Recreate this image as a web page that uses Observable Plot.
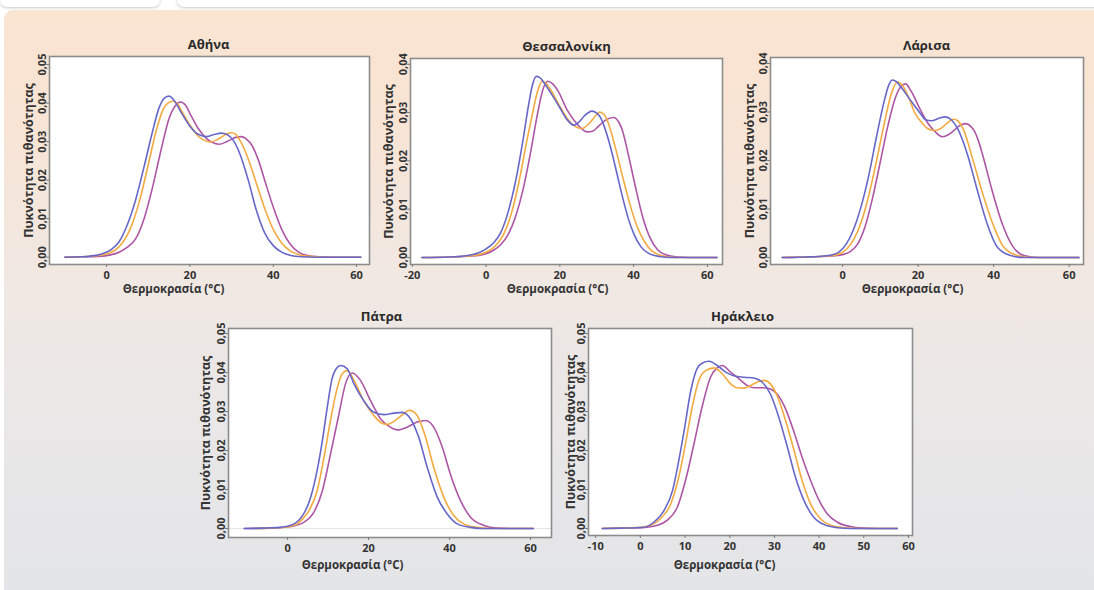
<!DOCTYPE html>
<html>
<head>
<meta charset="utf-8">
<script src="https://cdn.jsdelivr.net/npm/d3@7"></script>
<script src="https://cdn.jsdelivr.net/npm/@observablehq/plot@0.6"></script>
<style>
  html, body { margin: 0; padding: 0; background: #ffffff; }
  #page { position: relative; width: 1094px; height: 590px; overflow: hidden; background: #ffffff; font-family: "Open Sans", "Noto Sans", sans-serif; }
  .tab { position: absolute; top: -8px; height: 15px; background: #ffffff; border-radius: 0 0 7px 7px; box-shadow: 0 1px 3px rgba(0,0,0,0.22); }
  #bg { position: absolute; left: 4px; top: 10px; right: 0; bottom: 0; border-radius: 9px 0 0 0;
        background: linear-gradient(to bottom, #fae4d2 0%, #f8e4d4 18%, #f1e8e2 45%, #e9e7e7 70%, #e4e5e8 100%); }
  .panel { position: absolute; }
</style>
</head>
<body>
<div id="page">
  <div class="tab" style="left:0px; width:160px;"></div>
  <div class="tab" style="left:177px; width:930px;"></div>
  <div id="bg"></div>
</div>
<script>
// ---------- Data: [temperature °C, density] ----------
const athinaBlue = [[-10,0],[-6,0.0001],[-3,0.0004],[-1,0.0009],[1,0.0019],[3,0.0040],[5,0.0085],[7,0.0150],[9,0.0235],[11,0.0325],[12.5,0.0385],[14,0.0414],[15,0.0418],[16,0.0410],[18,0.0374],[20,0.0340],[22,0.0319],[24,0.0313],[26,0.0319],[27.5,0.0322],[29,0.0318],[30.5,0.0302],[32,0.0268],[34,0.0200],[36,0.0120],[38,0.0062],[40,0.0030],[42,0.0013],[44,0.0005],[47,0.0001],[50,0],[61,0]];
const athinaOrange = [[-10,0],[-6,0.0001],[-3,0.0003],[0,0.0008],[2,0.0018],[4,0.0040],[6,0.0082],[8,0.0150],[10,0.0240],[12,0.0332],[13.5,0.0382],[15,0.0402],[16,0.0405],[17,0.0398],[18,0.0380],[20,0.0343],[22,0.0314],[24,0.0301],[25,0.0299],[27,0.0308],[29,0.0321],[30,0.0323],[31,0.0319],[32,0.0303],[34,0.0255],[36,0.0190],[38,0.0125],[40,0.0072],[42,0.0037],[44,0.0017],[46,0.0007],[49,0.0002],[52,0],[61,0]];
const athinaPurple = [[-10,0],[-6,0.0001],[-2,0.0002],[1,0.0006],[3,0.0013],[5,0.0026],[7,0.0048],[9,0.0100],[11,0.0180],[13,0.0275],[15,0.0360],[16.5,0.0393],[17.7,0.0403],[19,0.0394],[20,0.0373],[22,0.0334],[24,0.0308],[26,0.0295],[27,0.0293],[29,0.0301],[31,0.0311],[32.3,0.0313],[33.5,0.0307],[35,0.0288],[36.5,0.0250],[38,0.0198],[40,0.0130],[42,0.0073],[44,0.0035],[46,0.0014],[48,0.0005],[51,0.0001],[54,0],[61,0]];

const thessBlue = [[-17.4,0],[-10,0.0001],[-5,0.0004],[-2,0.0010],[0,0.0018],[2,0.0030],[4,0.0052],[6,0.0095],[8,0.0158],[10,0.0243],[11.5,0.0315],[12.5,0.0355],[13.6,0.0375],[14.5,0.0373],[15.6,0.0363],[18,0.0335],[20,0.0310],[22,0.0285],[23.8,0.0274],[25,0.0279],[26.5,0.0292],[28.7,0.0303],[30,0.0299],[31,0.0290],[32,0.0272],[33.5,0.0235],[35.5,0.0173],[37,0.0125],[38.5,0.0082],[40,0.0050],[42,0.0022],[44,0.0009],[47,0.0002],[50,0],[62.6,0]];
const thessOrange = [[-17.4,0],[-10,0.0001],[-5,0.0003],[-1,0.0008],[1,0.0015],[3,0.0028],[5,0.0052],[7,0.0095],[9,0.0160],[11,0.0240],[12.5,0.0295],[14,0.0345],[15.2,0.0365],[16.3,0.0360],[18,0.0341],[20,0.0313],[22,0.0288],[24,0.0272],[26,0.0267],[28,0.0278],[30,0.0296],[30.8,0.0301],[32,0.0296],[33,0.0281],[35,0.0229],[37,0.0168],[39,0.0110],[41,0.0063],[43,0.0032],[45,0.0013],[48,0.0003],[51,0],[62.6,0]];
const thessPurple = [[-17.4,0],[-10,0.0001],[-4,0.0003],[0,0.0008],[2,0.0015],[4,0.0027],[6,0.0048],[8,0.0085],[10,0.0140],[12,0.0215],[14,0.0300],[15.4,0.0348],[16.7,0.0365],[18,0.0360],[19.5,0.0345],[22,0.0305],[24.6,0.0277],[27.4,0.0260],[29,0.0262],[30.5,0.0272],[32.5,0.0285],[34.5,0.0290],[36,0.0280],[37,0.0262],[38.5,0.0215],[40.5,0.0146],[42.5,0.0083],[44.5,0.0040],[46.5,0.0016],[48.5,0.0006],[52,0.0001],[55,0],[62.6,0]];

const larisaBlue = [[-16,0],[-10,0.0001],[-5,0.0003],[-3,0.0005],[-1,0.0011],[1,0.0028],[3,0.0060],[5,0.0108],[7,0.0172],[9,0.0250],[11,0.0322],[12.2,0.0355],[13.2,0.0366],[14.3,0.0362],[15.4,0.0352],[18,0.0324],[20.5,0.0298],[22,0.0284],[23.5,0.0282],[25.5,0.0287],[27.2,0.0290],[28.8,0.0284],[30.5,0.0265],[33,0.0214],[35.7,0.0138],[38.3,0.0069],[41,0.0021],[44.5,0.0004],[48,0],[62.6,0]];
const larisaOrange = [[-16,0],[-10,0.0001],[-4,0.0003],[-1,0.0007],[1,0.0017],[3,0.0038],[5,0.0075],[7,0.0130],[9,0.0200],[11,0.0275],[13,0.0340],[14.5,0.0362],[15.8,0.0355],[17.5,0.0330],[19,0.0300],[21,0.0278],[22.5,0.0266],[24.2,0.0262],[26,0.0266],[27.5,0.0276],[29.5,0.0285],[30.5,0.0282],[32.1,0.0262],[34.3,0.0207],[37.4,0.0124],[40.1,0.0063],[42.7,0.0021],[46.3,0.0004],[50,0],[62.6,0]];
const larisaPurple = [[-16,0],[-10,0.0001],[-3,0.0003],[0,0.0006],[2,0.0012],[4,0.0028],[6,0.0065],[8,0.0125],[10,0.0198],[12,0.0272],[14,0.0330],[15.5,0.0353],[16.7,0.0358],[18,0.0345],[20.7,0.0303],[22.5,0.0278],[24.2,0.0262],[26.4,0.0249],[28,0.0253],[29.5,0.0262],[31,0.0272],[32.6,0.0276],[34,0.0270],[34.8,0.0262],[36,0.0240],[37,0.0214],[39.6,0.0138],[42.3,0.0069],[44.9,0.0025],[48,0.0004],[52,0],[62.6,0]];

const patraBlue = [[-10.7,0],[-6,0.0001],[-2,0.0003],[0,0.0006],[1.6,0.0012],[3,0.0024],[4,0.0038],[5.7,0.0080],[7.3,0.0149],[8.6,0.0226],[9.8,0.0311],[11,0.0385],[12,0.0410],[13.1,0.0418],[14.7,0.0410],[16.4,0.0371],[18.8,0.0328],[21.3,0.0298],[23.8,0.0292],[26.3,0.0296],[28.3,0.0298],[30.4,0.0281],[32.4,0.0234],[34.5,0.0157],[37,0.0080],[39.4,0.0038],[41.9,0.0012],[45.2,0.0003],[48,0],[60.7,0]];
const patraOrange = [[-8.2,0],[-4,0.0001],[0,0.0004],[2.4,0.0012],[4,0.0028],[5.3,0.0046],[7.3,0.0097],[9,0.0183],[10.6,0.0277],[12.3,0.0362],[13.5,0.0397],[14.7,0.0405],[16.4,0.0380],[18.8,0.0328],[21.3,0.0290],[23,0.0272],[24.6,0.0267],[27.1,0.0281],[29,0.0297],[30,0.0303],[31,0.0300],[32,0.0290],[34.1,0.0234],[36.1,0.0157],[38.6,0.0080],[41.1,0.0033],[43.5,0.0012],[46.8,0.0003],[50,0],[60.7,0]];
const patraPurple = [[-10.7,0],[-5,0.0001],[0,0.0004],[2,0.0008],[4,0.0016],[6.5,0.0042],[8.6,0.0097],[10.6,0.0191],[12.7,0.0294],[14.3,0.0371],[16,0.0399],[18,0.0380],[20.5,0.0328],[23,0.0281],[25.4,0.0260],[27.1,0.0253],[29.5,0.0260],[32,0.0273],[34.1,0.0277],[36.1,0.0260],[38.2,0.0209],[40.2,0.0140],[42.7,0.0072],[45.2,0.0029],[48.5,0.0008],[51.8,0.0001],[55,0],[60.7,0]];

const heraklioBlue = [[-8.5,0],[-4,0.0001],[-1,0.0002],[0.8,0.0003],[3,0.0016],[5.3,0.0046],[7.2,0.0097],[8.6,0.0174],[9.8,0.0251],[11.3,0.0354],[12.7,0.0410],[14,0.0425],[15.4,0.0429],[17.2,0.0418],[19.1,0.0401],[20.9,0.0392],[23.2,0.0388],[25.4,0.0386],[27.3,0.0375],[29.1,0.0345],[31,0.0285],[32.9,0.0209],[34.7,0.0132],[36.6,0.0072],[38.8,0.0029],[41.1,0.0010],[44.1,0.0002],[47,0],[57.5,0]];
const heraklioOrange = [[-8.5,0],[-4,0.0001],[0,0.0003],[2.3,0.0008],[4.5,0.0025],[6.8,0.0063],[8.6,0.0132],[10.1,0.0217],[11.6,0.0311],[13.1,0.0380],[14.6,0.0405],[16.5,0.0412],[18.3,0.0397],[20.2,0.0371],[21.7,0.0361],[23.2,0.0360],[24.7,0.0367],[26.5,0.0377],[27.7,0.0380],[29.1,0.0371],[30.6,0.0341],[32.5,0.0277],[34.4,0.0200],[36.2,0.0123],[38.1,0.0063],[40.3,0.0025],[42.6,0.0008],[45.6,0.0002],[49,0],[57.5,0]];
const heraklioPurple = [[-8.5,0],[-4,0.0001],[0,0.0002],[2,0.0004],[3.8,0.0008],[6,0.0021],[8.3,0.0055],[10.1,0.0123],[12,0.0217],[13.8,0.0311],[15.7,0.0388],[17.2,0.0412],[18.3,0.0418],[20.2,0.0401],[22.1,0.0384],[23.9,0.0367],[25.4,0.0361],[27.3,0.0361],[29.1,0.0358],[30.6,0.0345],[32.5,0.0307],[34.4,0.0247],[36.2,0.0183],[38.1,0.0123],[40,0.0072],[41.8,0.0038],[44.1,0.0016],[47,0.0005],[50,0.0001],[53,0],[57.5,0]];

// Tick values and texts
const ticks0to60by20 = [0, 20, 40, 60];
const ticksM20to60by20 = [-20, 0, 20, 40, 60];
const ticksM10to60by10 = [-10, 0, 10, 20, 30, 40, 50, 60];
const yTicks005 = [0, 0.01, 0.02, 0.03, 0.04, 0.05];
const yTicks004 = [0, 0.01, 0.02, 0.03, 0.04];
const titles = ["Αθήνα", "Θεσσαλονίκη", "Λάρισα", "Πάτρα", "Ηράκλειο"];
const xLabelText = "Θερμοκρασία (°C)";
const yLabelText = "Πυκνότητα πιθανότητας";

// ---------- Styling / layout ----------
const COLOR = { blue: "#6767c9", orange: "#f3aa40", purple: "#ad56a5" };
const FONT = "'Open Sans', 'Noto Sans', sans-serif";
const fmtY = d => d.toFixed(2).replace(".", ",");

const panels = [
  { title: titles[0], frame: {L: 49, R: 369, T: 56, B: 264}, xDomain: [-13.7, 63.1], yDomain: [-0.0019, 0.0521],
    xTicks: ticks0to60by20, yTicks: yTicks005, series: {blue: athinaBlue, orange: athinaOrange, purple: athinaPurple},
    titleX: 208, xLabelX: 173, xLabelDy: 25, yLabelDx: -21, zero: false },
  { title: titles[1], frame: {L: 410, R: 722, T: 58, B: 264}, xDomain: [-20.5, 64.1], yDomain: [-0.00145, 0.0412],
    xTicks: ticksM20to60by20, yTicks: yTicks004, series: {blue: thessBlue, orange: thessOrange, purple: thessPurple},
    titleX: 566, xLabelX: 557, xLabelDy: 25, yLabelDx: -22, zero: false },
  { title: titles[2], frame: {L: 770, R: 1083, T: 57, B: 264}, xDomain: [-19.1, 63.8], yDomain: [-0.00144, 0.04124],
    xTicks: ticks0to60by20, yTicks: yTicks004, series: {blue: larisaBlue, orange: larisaOrange, purple: larisaPurple},
    titleX: 926, xLabelX: 912, xLabelDy: 25, yLabelDx: -21, zero: false },
  { title: titles[3], frame: {L: 228, R: 551, T: 328, B: 537}, xDomain: [-14.6, 65.2], yDomain: [-0.0023, 0.0513],
    xTicks: ticks0to60by20, yTicks: yTicks005, series: {blue: patraBlue, orange: patraOrange, purple: patraPurple},
    titleX: 381, xLabelX: 352, xLabelDy: 28, yLabelDx: -23, zero: true },
  { title: titles[4], frame: {L: 588, R: 912, T: 328, B: 535}, xDomain: [-11.6, 60.9], yDomain: [-0.0018, 0.0513],
    xTicks: ticksM10to60by10, yTicks: yTicks005, series: {blue: heraklioBlue, orange: heraklioOrange, purple: heraklioPurple},
    titleX: 742, xLabelX: 724, xLabelDy: 30, yLabelDx: -18, zero: false }
];

const page = document.getElementById("page");
const ml = 54, mr = 10, mt = 28, mb = 44;

for (const p of panels) {
  const w = p.frame.R - p.frame.L, h = p.frame.B - p.frame.T;
  const cx = (p.frame.L + p.frame.R) / 2;
  const lines = ["purple", "orange", "blue"].map(k =>
    Plot.line(p.series[k], {x: d => d[0], y: d => d[1], stroke: COLOR[k], strokeWidth: 1.6, curve: "monotone-x"})
  );
  const svg = Plot.plot({
    width: w + ml + mr, height: h + mt + mb,
    marginLeft: ml, marginRight: mr, marginTop: mt, marginBottom: mb,
    style: {background: "transparent", overflow: "visible", fontFamily: FONT, color: "#3a3a3a"},
    x: {domain: p.xDomain},
    y: {domain: p.yDomain},
    marks: [
      Plot.frame({fill: "#ffffff", stroke: "none"}),
      p.zero ? Plot.ruleY([0], {stroke: "#e4e4e4", strokeWidth: 1}) : null,
      ...lines,
      Plot.frame({stroke: "#8c8c8c", strokeWidth: 1.6}),
      Plot.axisX({ticks: p.xTicks, tickSize: 3, tickPadding: 4, tickFormat: d => String(d), label: null,
                  stroke: "#7a7a7a", fill: "#333333", fontSize: 11, fontWeight: 700}),
      Plot.axisY({ticks: p.yTicks, tickSize: 3, tickPadding: 1, tickRotate: -90, tickFormat: fmtY, label: null,
                  stroke: "#7a7a7a", fill: "#333333", fontSize: 11, fontWeight: 700}),
      Plot.text([p.title], {frameAnchor: "top", lineAnchor: "middle", dx: p.titleX - cx, dy: -12, fontSize: 13, fontWeight: 700, fill: "#2a2a2a"}),
      Plot.text([xLabelText], {frameAnchor: "bottom", lineAnchor: "middle", dx: p.xLabelX - cx, dy: p.xLabelDy, fontSize: 11.5, fontWeight: 700, fill: "#333333"}),
      Plot.text([yLabelText], {frameAnchor: "left", textAnchor: "middle", lineAnchor: "middle", dx: p.yLabelDx, rotate: -90, fontSize: 12.5, fontWeight: 700, fill: "#333333"})
    ]
  });
  const holder = document.createElement("div");
  holder.className = "panel";
  holder.style.left = (p.frame.L - ml) + "px";
  holder.style.top = (p.frame.T - mt) + "px";
  holder.appendChild(svg);
  page.appendChild(holder);
}
</script>
</body>
</html>
